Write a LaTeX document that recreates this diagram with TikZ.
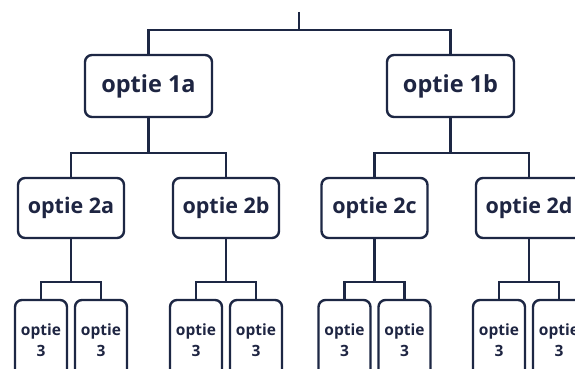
\documentclass[tikz,border=0pt]{standalone}
\usepackage{fontspec}
\setmainfont{Open Sans}
\definecolor{navy}{HTML}{1D2744}
\definecolor{ink}{HTML}{1E2542}
\tikzset{
  wire/.style={draw=navy, line width=2.6pt},
  optbox/.style={draw=navy, line width=2.4pt, fill=white, rounded corners=7pt,
    inner sep=0pt, text=ink, font=\bfseries},
  lvlone/.style={optbox, minimum width=127pt, minimum height=62pt, font=\bfseries\fontsize{23.5}{28}\selectfont},
  lvltwo/.style={optbox, minimum width=106pt, minimum height=60pt, font=\bfseries\fontsize{21.5}{26}\selectfont},
  leaf/.style={optbox, minimum width=52pt, minimum height=80pt, align=center,
    font=\bfseries\fontsize{15.5}{21}\selectfont},
}
\begin{document}
\begin{tikzpicture}[x=1pt, y=-1pt]
  \fill[white] (0,0) rectangle (575,369);
  \useasboundingbox (0,0) rectangle (575,369);
  \clip (0,0) rectangle (575,369);

  % first level
  \node[lvlone] (n1a) at (148.5,86) {optie 1a};
  \node[lvlone] (n1b) at (450.5,86) {optie 1b};

  % second level
  \node[lvltwo] (n2a) at (71,208)  {optie 2a};
  \node[lvltwo] (n2b) at (226,208) {optie 2b};
  \node[lvltwo] (n2c) at (374.5,208) {optie 2c};
  \node[lvltwo] (n2d) at (529,208) {optie 2d};

  % third level
  \foreach \p/\c in {a/71, b/226, c/374.5, d/529} {
    \node[leaf] (l\p1) at (\c-30,340) {optie\\3};
    \node[leaf] (l\p2) at (\c+30,340) {optie\\3};
  }

  % junction points
  \coordinate (top) at (299,12);
  \coordinate (j0) at (299,30);
  \coordinate (j1a) at (148.5,153);
  \coordinate (j1b) at (450.5,153);
  \foreach \p/\c in {a/71, b/226, c/374.5, d/529}
    \coordinate (j2\p) at (\c,282);

  % connectors
  \draw[wire] (top) -- (j0);
  \draw[wire] (n1a.north) |- (j0) -| (n1b.north);
  \draw[wire] (n1a.south) -- (j1a);
  \draw[wire] (n1b.south) -- (j1b);
  \draw[wire] (n2a.north) |- (j1a) -| (n2b.north);
  \draw[wire] (n2c.north) |- (j1b) -| (n2d.north);
  \foreach \p in {a,b,c,d} {
    \draw[wire] (n2\p.south) -- (j2\p);
    \draw[wire] (l\p1.north) |- (j2\p) -| (l\p2.north);
  }
\end{tikzpicture}
\end{document}
